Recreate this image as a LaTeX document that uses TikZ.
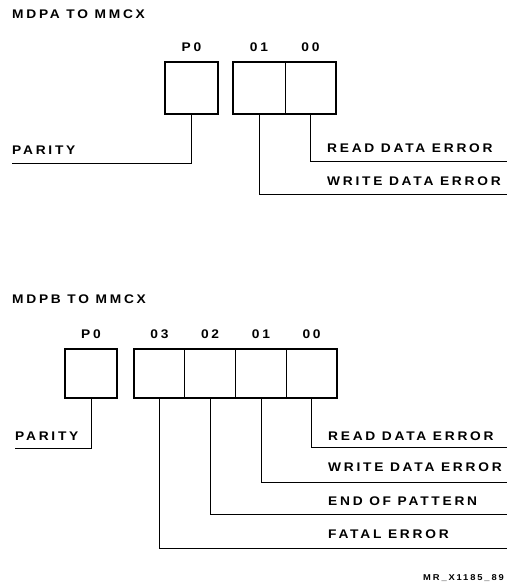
\documentclass[tikz,border=0pt]{standalone}
\usepackage{fontspec}
\setmainfont{Liberation Sans}
\newfontfamily\spaced[LetterSpace=22, FakeStretch=1.1]{Liberation Sans}
\usetikzlibrary{positioning}

\begin{document}
\begin{tikzpicture}[x=1pt, y=-1pt,
  lbl/.style={font=\spaced\bfseries\fontsize{12.5}{14}\selectfont, anchor=base west, inner sep=0pt},
  bitlbl/.style={font=\spaced\bfseries\fontsize{12.5}{14}\selectfont, inner sep=0pt},
  cell/.style={draw, line width=0.6pt, inner sep=0pt},
  frame/.style={draw, line width=1.8pt},
  lead/.style={line width=0.8pt}]
  \useasboundingbox (0,0) rectangle (507,583);

  % MDPA
  \node[lbl] (ttla) at (12,19) {MDPA TO MMCX};
  \node[cell, minimum width=53pt, minimum height=52pt] (ap0) at (191.5,88) {};
  \node[cell, minimum width=52pt, minimum height=52pt] (a01) at (259,88) {};
  \node[cell, minimum width=51pt, minimum height=52pt] (a00) at (310.5,88) {};
  \draw[frame] (ap0.north west) rectangle (ap0.south east);
  \draw[frame] (a01.north west) rectangle (a00.south east);
  \node[bitlbl, above=10pt of ap0] (ap0l) {P0};
  \node[bitlbl, above=10pt of a01] (a01l) {01};
  \node[bitlbl, above=10pt of a00] (a00l) {00};
  \coordinate (apar) at (12,163);
  \coordinate (arde) at (507,161);
  \coordinate (awde) at (507,194);
  \draw[lead] (ap0.south) |- (apar);
  \draw[lead] (a00.south) |- (arde);
  \draw[lead] (a01.south) |- (awde);
  \node[lbl] (aparl) at (12,154) {PARITY};
  \node[lbl] (ardel) at (327,152) {READ DATA ERROR};
  \node[lbl] (awdel) at (327,185) {WRITE DATA ERROR};

  % MDPB
  \node[lbl] (ttlb) at (12,303) {MDPB TO MMCX};
  \node[cell, minimum width=52pt, minimum height=49pt] (bp0) at (91,373.5) {};
  \node[cell, minimum width=50.75pt, minimum height=49pt] (b03) at (159.4,373.5) {};
  \node[cell, minimum width=50.75pt, minimum height=49pt] (b02) at (210.1,373.5) {};
  \node[cell, minimum width=50.75pt, minimum height=49pt] (b01) at (260.9,373.5) {};
  \node[cell, minimum width=50.75pt, minimum height=49pt] (b00) at (311.6,373.5) {};
  \draw[frame] (bp0.north west) rectangle (bp0.south east);
  \draw[frame] (b03.north west) rectangle (b00.south east);
  \node[bitlbl, above=10pt of bp0] (bp0l) {P0};
  \node[bitlbl, above=10pt of b03] (b03l) {03};
  \node[bitlbl, above=10pt of b02] (b02l) {02};
  \node[bitlbl, above=10pt of b01] (b01l) {01};
  \node[bitlbl, above=10pt of b00] (b00l) {00};
  \coordinate (bpar) at (15,448);
  \coordinate (brde) at (507,447);
  \coordinate (bwde) at (507,482);
  \coordinate (beop) at (507,514);
  \coordinate (bfat) at (507,548);
  \draw[lead] (bp0.south) |- (bpar);
  \draw[lead] (b00.south) |- (brde);
  \draw[lead] (b01.south) |- (bwde);
  \draw[lead] (b02.south) |- (beop);
  \draw[lead] (b03.south) |- (bfat);
  \node[lbl] (bparl) at (15,440) {PARITY};
  \node[lbl] (brdel) at (328,440) {READ DATA ERROR};
  \node[lbl] (bwdel) at (328,471) {WRITE DATA ERROR};
  \node[lbl] (beopl) at (328,505) {END OF PATTERN};
  \node[lbl] (bfatl) at (328,538) {FATAL ERROR};

  \node[font=\spaced\bfseries\fontsize{8.5}{10}\selectfont, anchor=base east, inner sep=0pt] (ref) at (504,580) {MR\_X1185\_89};
\end{tikzpicture}
\end{document}
